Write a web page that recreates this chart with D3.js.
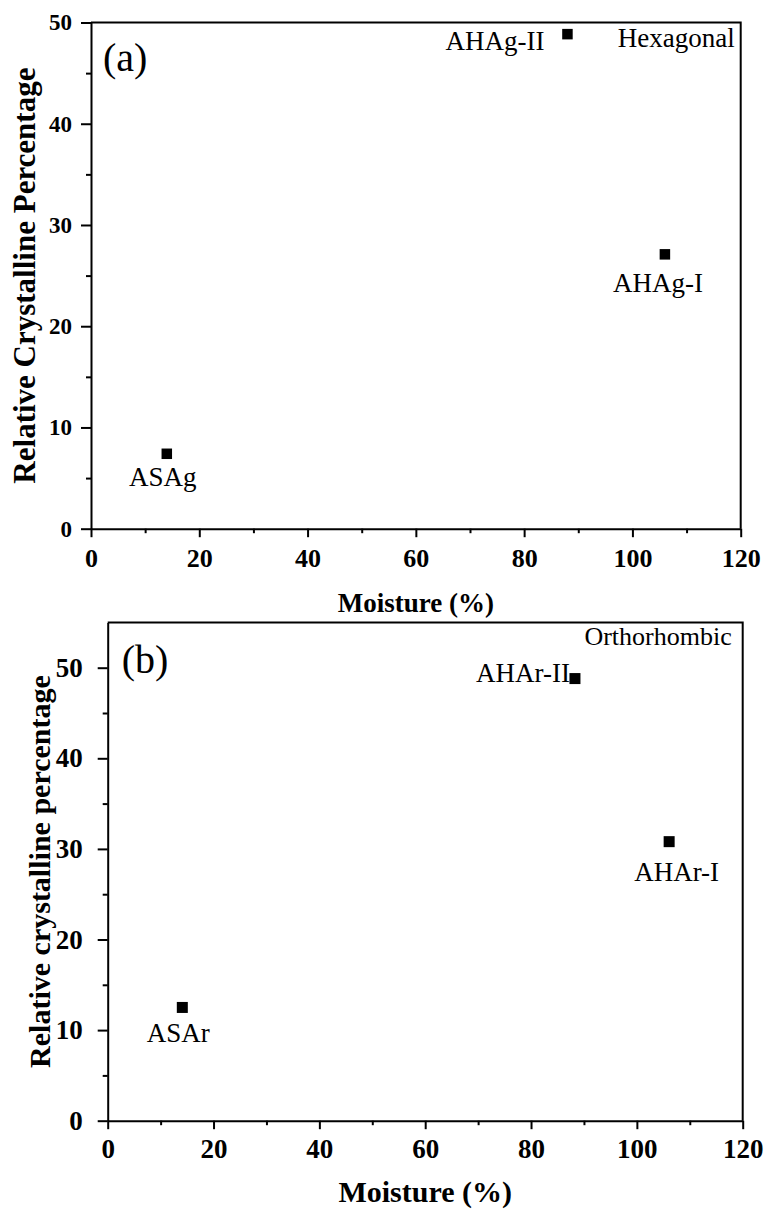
<!DOCTYPE html>
<html>
<head>
<meta charset="utf-8">
<title>Relative crystallinity vs moisture</title>
<script src="https://cdn.jsdelivr.net/npm/d3@7"></script>
<style>
  body { margin: 0; background: #fff; }
  svg text { font-family: "Liberation Serif", "Times New Roman", serif; fill: #000; }
  .axis text { font-weight: bold; }
  .axis path, .axis line { stroke: #000; }
</style>
</head>
<body>
<svg id="chart" width="767" height="1210"></svg>
<script>
  // panel (a): hexagonal
  const moistureA = [14, 88, 106];
  const crystA = [7.4, 48.85, 27.1];
  const namesA = ["ASAg", "AHAg-II", "AHAg-I"];
  // panel (b): orthorhombic
  const moistureB = [14.1, 88.3, 106.1];
  const crystB = [12.5, 48.8, 30.8];
  const namesB = ["ASAr", "AHAr-II", "AHAr-I"];
  // ticks
  const xTicks = [0, 20, 40, 60, 80, 100, 120];
  const yTicks = [0, 10, 20, 30, 40, 50];

  const svg = d3.select("#chart");

  const panels = [
    {
      xs: moistureA, ys: crystA, names: namesA,
      left: 91, right: 740.7, top: 22.5, bottom: 528.7, yMax: 50,
      letter: "(a)", letterPos: [12, 48],
      system: "Hexagonal", systemPos: [-6, 24], systemFont: 27,
      xTitle: "Moisture (%)", yTitle: "Relative Crystalline Percentage",
      xTickFont: 26, yTickFont: 23, yTickPad: 9, xTitleFont: 27, yTitleFont: 31,
      xTitleY: 83, yTitleX: 35, xLabelY: 38, marker: 10.5,
      // label offsets from each point: [dx, dy, anchor]
      offsets: [[-4, 32, "middle"], [-23, 16, "end"], [-7, 38, "middle"]]
    },
    {
      xs: moistureB, ys: crystB, names: namesB,
      left: 107.7, right: 742.7, top: 622.4, bottom: 1120.7, yMax: 55,
      letter: "(b)", letterPos: [14, 51],
      system: "Orthorhombic", systemPos: [-11, 22.6], systemFont: 26,
      xTitle: "Moisture (%)", yTitle: "Relative crystalline percentage",
      xTickFont: 27, yTickFont: 27, yTickPad: 15, xTitleFont: 30, yTitleFont: 30,
      xTitleY: 81, yTitleX: 50, xLabelY: 37.6, marker: 11,
      offsets: [[-4, 34.5, "middle"], [-5, 3.5, "end"], [7.5, 39, "middle"]]
    }
  ];

  panels.forEach(drawPanel);

  function drawPanel(p) {
    const g = svg.append("g");
    const x = d3.scaleLinear().domain([0, 120]).range([p.left, p.right]);
    const y = d3.scaleLinear().domain([0, p.yMax]).range([p.bottom, p.top]);

    // top and right frame
    g.append("path")
      .attr("d", "M" + p.left + "," + y(p.yMax) + "H" + x(120) + "V" + p.bottom)
      .attr("fill", "none")
      .attr("stroke", "#000")
      .attr("stroke-width", 2);

    // minor ticks
    g.append("g").attr("class", "axis")
      .attr("transform", "translate(0," + p.bottom + ")")
      .call(d3.axisBottom(x).tickValues(d3.range(10, 120, 20)).tickFormat("").tickSize(4.5).tickSizeOuter(0))
      .call(a => a.select(".domain").remove())
      .selectAll("line").attr("stroke-width", 2);
    g.append("g").attr("class", "axis")
      .attr("transform", "translate(" + p.left + ",0)")
      .call(d3.axisLeft(y).tickValues(d3.range(5, p.yMax - 1, 10)).tickFormat("").tickSize(5).tickSizeOuter(0))
      .call(a => a.select(".domain").remove())
      .selectAll("line").attr("stroke-width", 2);

    // major axes
    const xAxisGroup = g.append("g").attr("class", "axis")
      .attr("transform", "translate(0," + p.bottom + ")")
      .call(d3.axisBottom(x).tickValues(xTicks).tickSize(8.5).tickSizeOuter(0));
    xAxisGroup.selectAll("path, line").attr("stroke-width", 2);
    xAxisGroup.selectAll("text")
      .attr("y", p.xLabelY).attr("dy", null)
      .style("font-size", p.xTickFont + "px");

    const yAxisGroup = g.append("g").attr("class", "axis")
      .attr("transform", "translate(" + p.left + ",0)")
      .call(d3.axisLeft(y).tickValues(yTicks).tickSize(10).tickPadding(p.yTickPad).tickSizeOuter(0));
    yAxisGroup.selectAll("path, line").attr("stroke-width", 2);
    yAxisGroup.selectAll("text").style("font-size", p.yTickFont + "px");

    // points
    const pts = p.xs.map((d, i) => ({ x: d, y: p.ys[i], name: p.names[i], off: p.offsets[i] }));
    g.selectAll(".pt")
      .data(pts)
      .enter().append("rect")
        .attr("class", "pt")
        .attr("x", d => x(d.x) - p.marker / 2)
        .attr("y", d => y(d.y) - p.marker / 2)
        .attr("width", p.marker)
        .attr("height", p.marker)
        .attr("fill", "#000");
    g.selectAll(".ptLabel")
      .data(pts)
      .enter().append("text")
        .attr("class", "ptLabel")
        .attr("x", d => x(d.x) + d.off[0])
        .attr("y", d => y(d.y) + d.off[1])
        .attr("text-anchor", d => d.off[2])
        .style("font-size", "27px")
        .text(d => d.name);

    // panel letter and crystal system
    g.append("text")
      .attr("x", p.left + p.letterPos[0])
      .attr("y", p.top + p.letterPos[1])
      .style("font-size", "40px")
      .text(p.letter);
    g.append("text")
      .attr("x", p.right + p.systemPos[0])
      .attr("y", p.top + p.systemPos[1])
      .attr("text-anchor", "end")
      .style("font-size", p.systemFont + "px")
      .text(p.system);

    // axis titles
    g.append("text")
      .attr("x", (p.left + p.right) / 2)
      .attr("y", p.bottom + p.xTitleY)
      .attr("text-anchor", "middle")
      .style("font-size", p.xTitleFont + "px")
      .style("font-weight", "bold")
      .text(p.xTitle);
    g.append("text")
      .attr("transform", "translate(" + p.yTitleX + "," + (p.top + p.bottom) / 2 + ") rotate(-90)")
      .attr("text-anchor", "middle")
      .style("font-size", p.yTitleFont + "px")
      .style("font-weight", "bold")
      .text(p.yTitle);
  }
</script>
</body>
</html>
